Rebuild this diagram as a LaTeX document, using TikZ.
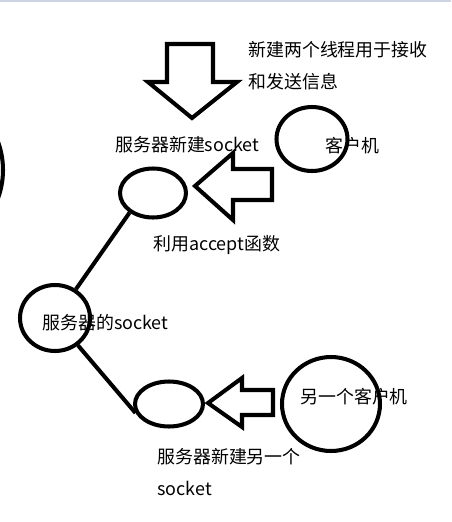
\documentclass[tikz,border=0pt]{standalone}
\usepackage{fontspec}
\setmainfont{Noto Sans CJK SC}
\usepackage{xcolor}
\usetikzlibrary{shapes.geometric}
\definecolor{barcol}{RGB}{205,213,226}

\begin{document}
\begin{tikzpicture}[x=0.02cm,y=-0.02cm,
    every node/.style={font=\fontsize{10.2pt}{18.2pt}\selectfont},
    ring/.style={draw,ellipse,line width=2.3pt,inner sep=0pt},
    txt/.style={anchor=west,inner sep=0pt,align=left},
    fat/.style={line width=2.3pt}]
    \useasboundingbox (0,0) rectangle (451,522);
    \fill[barcol] (0,0) rectangle (451,2);
    \begin{scope}
      \clip (0,0) rectangle (451,522);
      \draw[fat] (-79,170) circle[radius=82];
    \end{scope}
    % sockets and clients
    \node[ring,minimum width=1.32cm,minimum height=0.98cm] (acc1) at (153,193) {};
    \node[ring,minimum width=1.4cm,minimum height=1.32cm] (srv) at (55,318) {};
    \node[ring,minimum width=1.36cm,minimum height=0.9cm] (acc2) at (169,404) {};
    \node[ring,minimum width=1.42cm,minimum height=1.28cm] (cli1) at (312,139) {};
    \node[ring,minimum width=1.96cm,minimum height=1.88cm] (cli2) at (331,404) {};
    \draw[fat] (acc1.220) -- (srv.54);
    \draw[fat] (srv.-50) -- (acc2.195);
    % block arrows
    \draw[fat] (167,44) -- (213,44) -- (213,82) -- (237,82) -- (192,118) -- (148,82) -- (167,82) -- cycle;
    \draw[fat] (195,186) -- (233,153) -- (233,169) -- (272,169) -- (272,200) -- (233,200) -- (233,220) -- cycle;
    \draw[fat] (208,403) -- (242,378) -- (242,390) -- (273,390) -- (273,415) -- (242,415) -- (242,427) -- cycle;
    % texts
    \node[txt] (thr) at (248,66) {新建两个线程用于接收\\和发送信息};
    \node[txt] (new1) at (115,145) {服务器新建socket};
    \node[txt] (c1) at (325,146) {客户机};
    \node[txt] (acc) at (153,245) {利用accept函数};
    \node[txt] (main) at (42,323) {服务器的socket};
    \node[txt] (c2) at (300,397) {另一个客户机};
    \node[txt] (new2) at (157,472) {服务器新建另一个\\socket};
  \end{tikzpicture}
\end{document}
